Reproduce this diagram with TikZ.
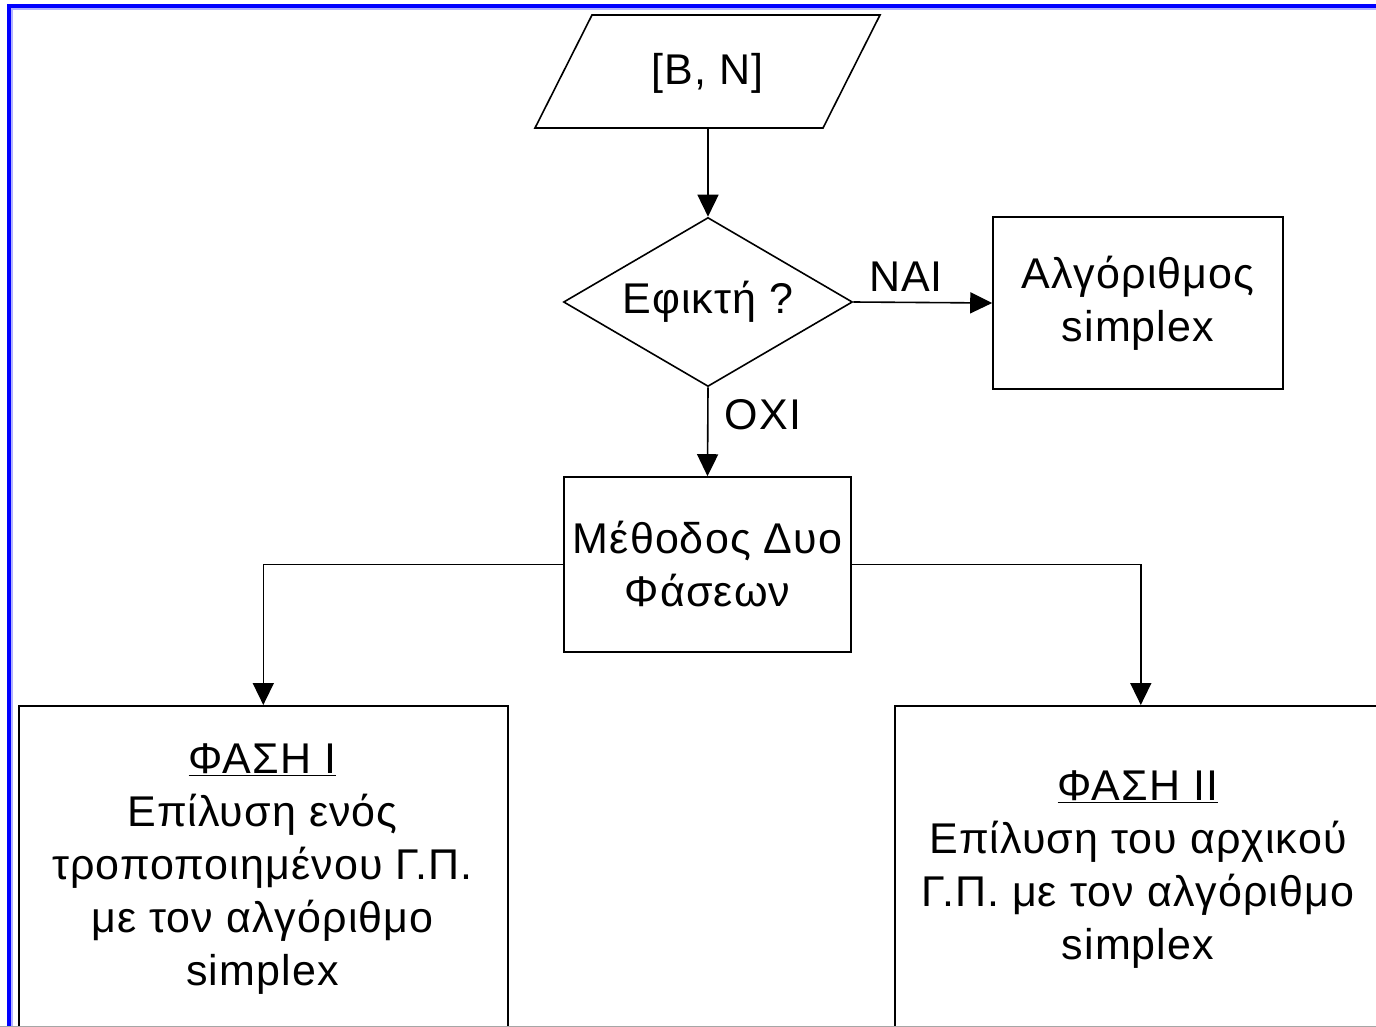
\documentclass[tikz,border=0pt]{standalone}
\usepackage{fontspec}
\setmainfont{Liberation Sans}[LetterSpace=2.5]
\usetikzlibrary{arrows.meta,shapes.geometric}
\begin{document}
\begin{tikzpicture}[x=1pt,y=-1pt,
  font=\fontsize{43}{53}\selectfont,
  ln/.style={line width=1.6pt,draw=black},
  arr/.style={ln,-{Triangle[length=22pt,width=21pt]}},
  boxn/.style={ln,rectangle,inner sep=0pt,align=center},
  txt/.style={inner sep=0pt,align=center}]
\clip (0,0) rectangle (1376,1027);
\fill[white] (0,0) rectangle (1376,1027);
% frame
\draw[blue!30,line width=1.5pt] (12.2,1040) -- (12.2,9.2) -- (1390,9.2);
\draw[blue,line width=4.5pt] (9,1040) -- (9,6) -- (1390,6);
% input parallelogram
\draw[ln] (535,128) -- (592,15) -- (880,15) -- (823,128) -- cycle;
\node[txt] (io) at (707.5,73) {[B, N]};
\coordinate (iob) at (708,128);
% decision
\node[ln,diamond,aspect=1.71,inner sep=0pt,minimum width=289pt,minimum height=169pt] (dec) at (708,302) {Εφικτή ?};
% simplex box
\node[boxn,minimum width=290pt,minimum height=172pt] (alg) at (1138,303) {Αλγόριθμος\\simplex};
% two-phase box
\node[boxn,minimum width=287pt,minimum height=175pt] (two) at (707.5,564.5) {Μέθοδος Δυο\\Φάσεων};
% phase boxes
\node[ln,rectangle,inner sep=0pt,anchor=north west,minimum width=489pt,minimum height=340pt] (ph1) at (18,705) {};
\node[ln,rectangle,inner sep=0pt,anchor=north west,minimum width=492pt,minimum height=340pt] (ph2) at (894,705) {};
\node[txt] (ph1t) at (262.5,869) {\underline{ΦΑΣΗ I}\\Επίλυση ενός\\τροποποιημένου Γ.Π.\\με τον αλγόριθμο\\simplex};
\node[txt] (ph2t) at (1138,870) {\underline{ΦΑΣΗ II}\\Επίλυση του αρχικού\\Γ.Π. με τον αλγόριθμο\\simplex};
% labels
\node[txt] (lnai) at (906,277) {NAI};
\node[txt] (loxi) at (763,415) {OXI};
% connectors
\draw[arr] (iob) -- (dec.north);
\draw[arr] (dec.east) -- (alg.west);
\draw[arr] (dec.south) -- (two.north);
\draw[arr] (two.west) -| (ph1.north);
\draw[arr] (two.east) -| (ph2.north);
% bottom edge
\draw[black!35,line width=1.2pt] (0,1026.3) -- (1376,1026.3);
\end{tikzpicture}
\end{document}
